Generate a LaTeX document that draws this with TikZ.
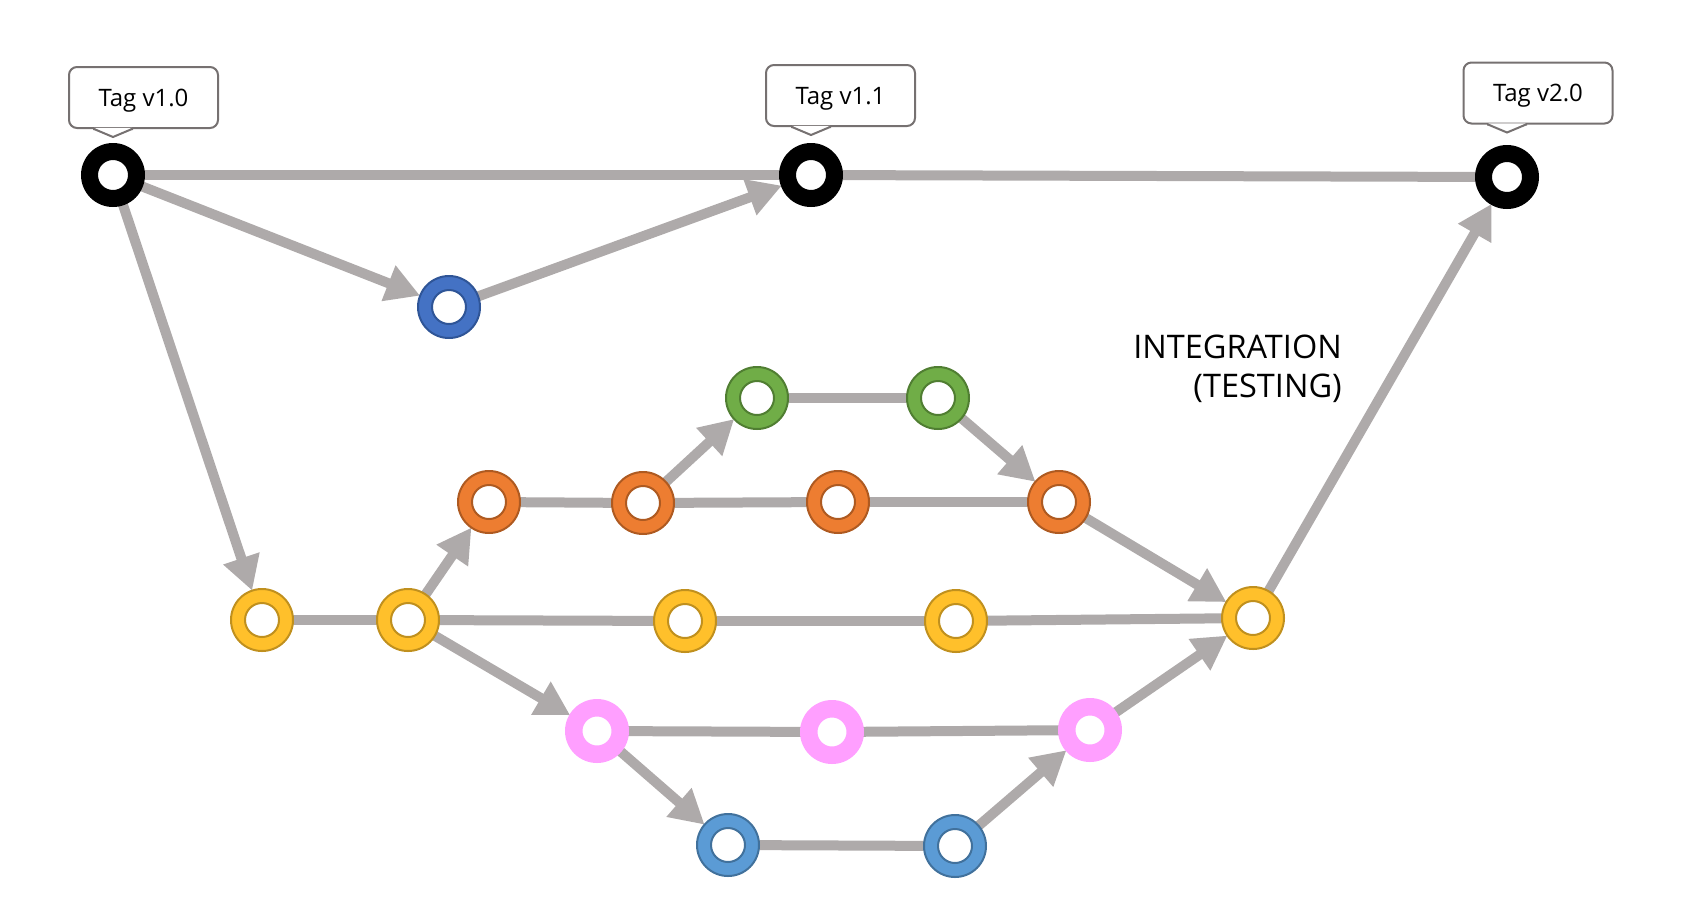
\documentclass[tikz,border=0pt]{standalone}
\usepackage{fontspec}
\setmainfont{Open Sans}
\usetikzlibrary{arrows.meta,calc}
\pgfdeclarelayer{background}
\pgfsetlayers{background,main}
\definecolor{edgegrey}{HTML}{AEAAAA}
\definecolor{tagborder}{HTML}{767171}
\definecolor{ylwfill}{HTML}{FFC02B}
\definecolor{ylwline}{HTML}{C0901E}
\definecolor{orgfill}{HTML}{ED7D31}
\definecolor{orgline}{HTML}{AE5A21}
\definecolor{grnfill}{HTML}{70AD47}
\definecolor{grnline}{HTML}{507E32}
\definecolor{dbfill}{HTML}{4472C4}
\definecolor{dbline}{HTML}{2F5597}
\definecolor{lbfill}{HTML}{5B9BD5}
\definecolor{lbline}{HTML}{41719C}
\definecolor{pnkfill}{HTML}{FF9FFF}
\tikzset{
  ring/.style n args={3}{circle, minimum size=62pt, inner sep=0pt, outer sep=0pt,
    fill=#1, draw=#2, line width=2pt,
    path picture={\draw[#2, line width=2pt, fill=white] (path picture bounding box.center) circle (#3);}},
  blackring/.style={ring={black}{black}{16pt}},
  ylw/.style={ring={ylwfill}{ylwline}{17pt}},
  org/.style={ring={orgfill}{orgline}{17pt}},
  grn/.style={ring={grnfill}{grnline}{17pt}},
  dblue/.style={ring={dbfill}{dbline}{17pt}},
  lblue/.style={ring={lbfill}{lbline}{17pt}},
  pnk/.style={ring={pnkfill}{pnkfill}{15.5pt}},
  conn/.style={draw=edgegrey, line width=10pt},
  arr/.style={conn, -{Triangle[length=34pt,width=36pt]}},
  tagbox/.style={draw=tagborder, line width=2pt, rounded corners=8pt, fill=white,
    minimum width=149pt, minimum height=61pt, inner sep=0pt,
    text height=17pt, text depth=0pt,
    font=\fontsize{24}{28}\selectfont},
  tagptr/.style={draw=tagborder, line width=2pt, line join=miter},
}
\begin{document}
\begin{tikzpicture}[x=1pt,y=-1pt]
\useasboundingbox (0,0) rectangle (1690,898);
% tags
\node[tagbox] (t1) at (143.5,97.5) {Tag v1.0};
\node[tagbox] (t2) at (840.5,95.5) {Tag v1.1};
\node[tagbox] (t3) at (1538,93) {Tag v2.0};
\foreach \t/\px in {t1/113, t2/811, t3/1507}{
  \coordinate (\t-l) at (\px-19, 0 |- \t.south);
  \coordinate (\t-r) at (\px+19, 0 |- \t.south);
  \coordinate (\t-tip) at ($(\px, 0 |- \t.south)+(0,8)$);
  \fill[white] ($(\t-l)+(0,-1.2)$) -- (\t-tip) -- ($(\t-r)+(0,-1.2)$) -- cycle;
  \draw[tagptr] ($(\t-l)+(-1,0)$) -- (\t-l) -- (\t-tip) -- (\t-r) -- ($(\t-r)+(1,0)$);
}
% commits
\node[blackring] (A) at (113,175) {};
\node[blackring] (B) at (811,175) {};
\node[blackring] (C) at (1507,177) {};
\node[dblue] (D) at (449,307) {};
\node[grn] (G1) at (757,398) {};
\node[grn] (G2) at (938,398) {};
\node[org] (O1) at (489,502) {};
\node[org] (O2) at (643,503) {};
\node[org] (O3) at (838,502) {};
\node[org] (O4) at (1059,502) {};
\node[ylw] (Y1) at (262,620) {};
\node[ylw] (Y2) at (408,620) {};
\node[ylw] (Y3) at (685,621) {};
\node[ylw] (Y4) at (956,621) {};
\node[ylw] (Y5) at (1253,618) {};
\node[pnk] (P1) at (597,731) {};
\node[pnk] (P2) at (832,732) {};
\node[pnk] (P3) at (1090,730) {};
\node[lblue] (L1) at (728,845) {};
\node[lblue] (L2) at (955,846) {};
% label
\node[anchor=north east, align=right, inner sep=0pt,
  font=\fontsize{32.5}{38.5}\selectfont] (lab) at (1342,335) {INTEGRATION\\(TESTING)};
% connectors
\begin{pgfonlayer}{background}
\draw[conn] (A) -- (B);
\draw[conn] (B) -- (C);
\draw[arr] (A) -- (D);
\draw[arr] (D) -- (B);
\draw[arr] (A) -- (Y1);
\draw[conn] (Y1) -- (Y2);
\draw[arr] (Y2) -- (O1);
\draw[conn] (O1) -- (O2);
\draw[arr] (O2) -- (G1);
\draw[conn] (G1) -- (G2);
\draw[arr] (G2) -- (O4);
\draw[conn] (O2) -- (O3);
\draw[conn] (O3) -- (O4);
\draw[arr] (O4) -- (Y5);
\draw[conn] (Y2) -- (Y3);
\draw[conn] (Y3) -- (Y4);
\draw[conn] (Y4) -- (Y5);
\draw[arr] (Y2) -- (P1);
\draw[conn] (P1) -- (P2);
\draw[conn] (P2) -- (P3);
\draw[arr] (P3) -- (Y5);
\draw[arr] (P1) -- (L1);
\draw[conn] (L1) -- (L2);
\draw[arr] (L2) -- (P3);
\draw[arr] (Y5) -- (C);
\end{pgfonlayer}
\end{tikzpicture}
\end{document}
